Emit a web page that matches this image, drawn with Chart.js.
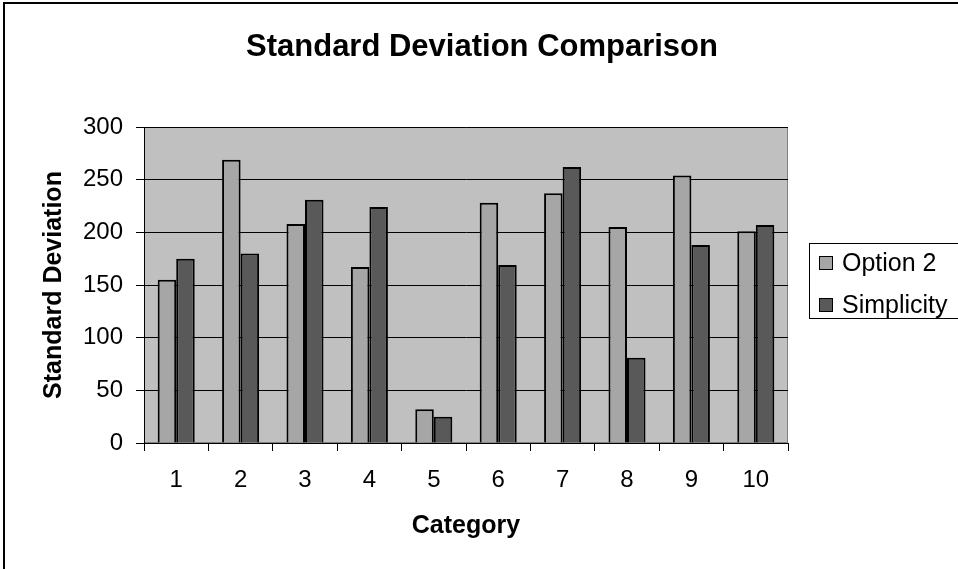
<!DOCTYPE html>
<html>
<head>
<meta charset="utf-8">
<title>Standard Deviation Comparison</title>
<script src="https://cdn.jsdelivr.net/npm/chart.js@4.4.1/dist/chart.umd.min.js"></script>
<style>
    html, body { margin: 0; padding: 0; background: #fff; overflow: hidden; }
    #wrap { position: relative; width: 958px; height: 569px; }
</style>
</head>
<body>
<div id="wrap"><canvas id="chart" width="958" height="569"></canvas></div>
<script>
// ────────────────────────────────────────────────
// Data
// ────────────────────────────────────────────────
const categories   = ['1', '2', '3', '4', '5', '6', '7', '8', '9', '10'];
const option2      = [155, 269, 208, 167, 32, 228, 237, 205, 254, 201];
const simplicity   = [175, 180, 231, 224, 25, 169, 262, 81, 188, 207];
const seriesNames  = ['Option 2', 'Simplicity'];
const yTicks       = [0, 50, 100, 150, 200, 250, 300];
const chartTitle   = 'Standard Deviation Comparison';

const FONT = "'Liberation Sans', Arial, Helvetica, sans-serif";

// ────────────────────────────────────────────────
// Plugins: outer frame, plot background, title, legend box
// ────────────────────────────────────────────────
const excelLook = {
    id: 'excelLook',
    beforeDraw(chart) {
        const { ctx, chartArea: a } = chart;
        ctx.save();
        ctx.fillStyle = '#ffffff';
        ctx.fillRect(0, 0, chart.width, chart.height);
        // outer chart frame (runs off the right / bottom edge)
        ctx.strokeStyle = '#000';
        ctx.lineWidth = 2;
        ctx.strokeRect(4, 3, 1100, 1100);
        // plot area
        ctx.fillStyle = '#c0c0c0';
        ctx.fillRect(a.left, a.top, a.right - a.left, a.bottom - a.top);
        ctx.strokeStyle = '#808080';
        ctx.lineWidth = 1;
        ctx.strokeRect(a.left + 0.5, a.top + 0.5, a.right - a.left - 1, a.bottom - a.top - 1);
        // title, centred on the whole chart box
        ctx.fillStyle = '#000';
        ctx.font = `bold 31px ${FONT}`;
        ctx.textAlign = 'center';
        ctx.textBaseline = 'middle';
        ctx.fillText(chartTitle, 482, 47);
        ctx.restore();
    },
    afterDraw(chart) {
        const { ctx } = chart;
        const boxX = 809, boxY = 243, boxW = 160, boxH = 75;
        ctx.save();
        ctx.fillStyle = '#fff';
        ctx.fillRect(boxX, boxY, boxW, boxH);
        ctx.strokeStyle = '#000';
        ctx.lineWidth = 1;
        ctx.strokeRect(boxX + 0.5, boxY + 0.5, boxW, boxH);
        ctx.font = `25px ${FONT}`;
        ctx.textBaseline = 'middle';
        chart.data.datasets.forEach((ds, i) => {
            const cy = boxY + 20 + i * 42;
            ctx.fillStyle = ds.backgroundColor;
            ctx.fillRect(819, cy - 7, 13, 13);
            ctx.strokeStyle = '#000';
            ctx.strokeRect(819.5, cy - 6.5, 13, 13);
            ctx.fillStyle = '#000';
            ctx.fillText(ds.label, 842, cy + 1);
        });
        ctx.restore();
    }
};

// ────────────────────────────────────────────────
// Chart
// ────────────────────────────────────────────────
new Chart(document.getElementById('chart'), {
    type: 'bar',
    data: {
        labels: categories,
        datasets: [
            {
                label: seriesNames[0],
                data: option2,
                backgroundColor: '#a6a6a6',
                borderColor: '#000',
                borderWidth: 2
            },
            {
                label: seriesNames[1],
                data: simplicity,
                backgroundColor: '#595959',
                borderColor: '#000',
                borderWidth: 2
            }
        ]
    },
    options: {
        responsive: false,
        animation: false,
        devicePixelRatio: 1,
        layout: { padding: { left: 0, right: 170, top: 127, bottom: 0 } },
        datasets: {
            bar: { categoryPercentage: 0.575, barPercentage: 1 }
        },
        plugins: {
            legend: { display: false },
            tooltip: { enabled: false },
            title: { display: false }
        },
        scales: {
            x: {
                grid: {
                    offset: true,
                    drawOnChartArea: false,
                    color: '#000',
                    tickLength: 8
                },
                border: { color: '#000', width: 1 },
                ticks: {
                    color: '#000',
                    font: { family: FONT, size: 24 },
                    padding: 15,
                    maxRotation: 0
                },
                title: {
                    display: true,
                    text: 'Category',
                    color: '#000',
                    font: { family: FONT, size: 25, weight: 'bold' },
                    padding: { top: 0, bottom: 28 }
                },
                afterFit(scale) { scale.height = 126; }
            },
            y: {
                min: 0,
                max: 300,
                afterBuildTicks(scale) {
                    scale.ticks = yTicks.map(v => ({ value: v }));
                },
                grid: {
                    color: '#000',
                    lineWidth: 1,
                    tickLength: 8
                },
                border: { color: '#000', width: 1 },
                ticks: {
                    color: '#000',
                    font: { family: FONT, size: 24 },
                    padding: 13
                },
                title: {
                    display: true,
                    text: 'Standard Deviation',
                    color: '#000',
                    font: { family: FONT, size: 25, weight: 'bold' },
                    padding: { top: 39, bottom: 0 }
                },
                afterFit(scale) { scale.width = 144; }
            }
        }
    },
    plugins: [excelLook]
});
</script>
</body>
</html>
